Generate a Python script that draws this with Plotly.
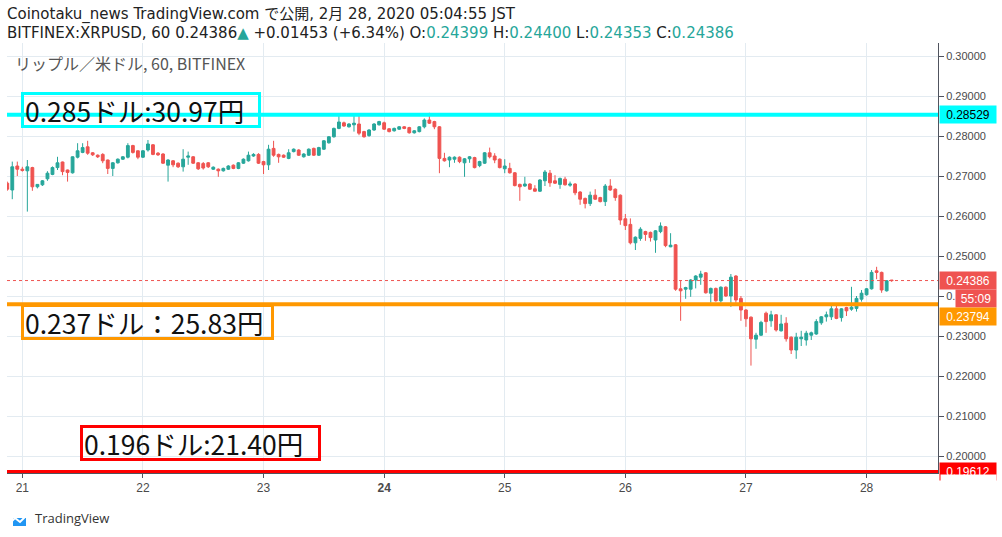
import pandas as pd
import plotly.graph_objects as go

# hourly XRPUSD candles (BITFINEX, 60)
opens = [
    0.2682, 0.2665, 0.2725, 0.2717, 0.2713, 0.2721, 0.2673, 0.2678, 0.2693, 0.2704,
    0.2721, 0.2735, 0.2715, 0.2708, 0.2747, 0.2759, 0.2773, 0.2758, 0.2752, 0.2754,
    0.2740, 0.2719, 0.2733, 0.2742, 0.2747, 0.2776, 0.2763, 0.2747, 0.2765, 0.2778,
    0.2757, 0.2755, 0.2727, 0.2738, 0.2732, 0.2723, 0.2747, 0.2748, 0.2733, 0.2731,
    0.2733, 0.2717, 0.2717, 0.2713, 0.2717, 0.2727, 0.2719, 0.2732, 0.2738, 0.2750,
    0.2754, 0.2736, 0.2728, 0.2769, 0.2754, 0.2752, 0.2744, 0.2761, 0.2765, 0.2748,
    0.2752, 0.2769, 0.2752, 0.2767, 0.2783, 0.2798, 0.2819, 0.2833, 0.2823, 0.2828,
    0.2830, 0.2811, 0.2801, 0.2815, 0.2828, 0.2833, 0.2818, 0.2813, 0.2817, 0.2823,
    0.2821, 0.2808, 0.2811, 0.2823, 0.2840, 0.2836, 0.2823, 0.2744, 0.2740, 0.2742,
    0.2747, 0.2733, 0.2743, 0.2746, 0.2726, 0.2732, 0.2758, 0.2750, 0.2742, 0.2718,
    0.2719, 0.2708, 0.2679, 0.2675, 0.2680, 0.2668, 0.2662, 0.2688, 0.2707, 0.2688,
    0.2679, 0.2692, 0.2677, 0.2680, 0.2660, 0.2644, 0.2631, 0.2652, 0.2646, 0.2636,
    0.2675, 0.2667, 0.2652, 0.2593, 0.2579, 0.2533, 0.2544, 0.2561, 0.2559, 0.2540,
    0.2561, 0.2573, 0.2523, 0.2528, 0.2418, 0.2417, 0.2417, 0.2440, 0.2447, 0.2458,
    0.2407, 0.2419, 0.2388, 0.2422, 0.2400, 0.2450, 0.2394, 0.2365, 0.2347, 0.2292,
    0.2302, 0.2357, 0.2338, 0.2353, 0.2313, 0.2332, 0.2297, 0.2265, 0.2293, 0.2290,
    0.2302, 0.2305, 0.2333, 0.2348, 0.2348, 0.2368, 0.2346, 0.2371, 0.2367, 0.2369,
    0.2392, 0.2403, 0.2418, 0.2463, 0.2459, 0.2413, 0.24399,
]
highs = [
    0.2686, 0.2736, 0.2736, 0.2723, 0.2740, 0.2723, 0.2680, 0.2690, 0.2712, 0.2724,
    0.2748, 0.2736, 0.2716, 0.2749, 0.2782, 0.2782, 0.2788, 0.2760, 0.2754, 0.2757,
    0.2741, 0.2735, 0.2744, 0.2750, 0.2782, 0.2778, 0.2764, 0.2765, 0.2790, 0.2780,
    0.2760, 0.2757, 0.2742, 0.2740, 0.2734, 0.2767, 0.2761, 0.2750, 0.2735, 0.2735,
    0.2735, 0.2724, 0.2719, 0.2721, 0.2727, 0.2729, 0.2735, 0.2744, 0.2761, 0.2757,
    0.2757, 0.2738, 0.2778, 0.2788, 0.2756, 0.2754, 0.2767, 0.2769, 0.2767, 0.2757,
    0.2769, 0.2771, 0.2773, 0.2790, 0.2800, 0.2821, 0.2853, 0.2836, 0.2832, 0.2853,
    0.2853, 0.2813, 0.2817, 0.2832, 0.2838, 0.2836, 0.2820, 0.2821, 0.2825, 0.2825,
    0.2823, 0.2815, 0.2825, 0.2844, 0.2858, 0.2838, 0.2825, 0.2758, 0.2749, 0.2749,
    0.2749, 0.2745, 0.2750, 0.2748, 0.2738, 0.2760, 0.2771, 0.2757, 0.2744, 0.2742,
    0.2733, 0.2710, 0.2681, 0.2698, 0.2682, 0.2677, 0.2692, 0.2715, 0.2715, 0.2702,
    0.2696, 0.2698, 0.2686, 0.2682, 0.2662, 0.2646, 0.2661, 0.2667, 0.2648, 0.2680,
    0.2692, 0.2669, 0.2654, 0.2605, 0.2594, 0.2549, 0.2572, 0.2563, 0.2561, 0.2565,
    0.2584, 0.2575, 0.2557, 0.2530, 0.2440, 0.2423, 0.2442, 0.2452, 0.2463, 0.2460,
    0.2421, 0.2421, 0.2424, 0.2424, 0.2455, 0.2452, 0.2400, 0.2367, 0.2349, 0.2308,
    0.2338, 0.2361, 0.2363, 0.2355, 0.2353, 0.2347, 0.2299, 0.2308, 0.2313, 0.2313,
    0.2311, 0.2342, 0.2350, 0.2361, 0.2375, 0.2375, 0.2370, 0.2373, 0.2423, 0.2400,
    0.2415, 0.2420, 0.2465, 0.2473, 0.2461, 0.2440, 0.24400,
]
lows = [
    0.2663, 0.2642, 0.2700, 0.2711, 0.2611, 0.2663, 0.2669, 0.2675, 0.2688, 0.2702,
    0.2715, 0.2702, 0.2686, 0.2706, 0.2744, 0.2757, 0.2753, 0.2750, 0.2745, 0.2732,
    0.2705, 0.2700, 0.2731, 0.2740, 0.2744, 0.2756, 0.2742, 0.2745, 0.2761, 0.2752,
    0.2750, 0.2730, 0.2686, 0.2722, 0.2720, 0.2711, 0.2728, 0.2730, 0.2715, 0.2716,
    0.2720, 0.2715, 0.2698, 0.2711, 0.2715, 0.2717, 0.2717, 0.2730, 0.2736, 0.2748,
    0.2730, 0.2705, 0.2715, 0.2748, 0.2733, 0.2745, 0.2742, 0.2759, 0.2750, 0.2746,
    0.2750, 0.2750, 0.2750, 0.2765, 0.2781, 0.2796, 0.2817, 0.2823, 0.2821, 0.2811,
    0.2802, 0.2796, 0.2798, 0.2813, 0.2826, 0.2815, 0.2809, 0.2811, 0.2815, 0.2817,
    0.2806, 0.2806, 0.2809, 0.2819, 0.2830, 0.2817, 0.2707, 0.2736, 0.2722, 0.2733,
    0.2732, 0.2698, 0.2733, 0.2719, 0.2722, 0.2730, 0.2744, 0.2732, 0.2719, 0.2707,
    0.2706, 0.2674, 0.2638, 0.2673, 0.2665, 0.2661, 0.2660, 0.2675, 0.2673, 0.2680,
    0.2668, 0.2676, 0.2673, 0.2652, 0.2628, 0.2619, 0.2625, 0.2640, 0.2634, 0.2625,
    0.2663, 0.2638, 0.2578, 0.2565, 0.2529, 0.2515, 0.2538, 0.2538, 0.2536, 0.2508,
    0.2557, 0.2522, 0.2522, 0.2413, 0.2338, 0.2393, 0.2398, 0.2419, 0.2428, 0.2406,
    0.2383, 0.2386, 0.2383, 0.2398, 0.2373, 0.2383, 0.2338, 0.2323, 0.2226, 0.2268,
    0.2300, 0.2308, 0.2323, 0.2311, 0.2311, 0.2286, 0.2255, 0.2243, 0.2275, 0.2276,
    0.2290, 0.2303, 0.2328, 0.2336, 0.2340, 0.2342, 0.2336, 0.2350, 0.2363, 0.2361,
    0.2386, 0.2401, 0.2416, 0.2442, 0.2408, 0.2411, 0.24353,
]
closes = [
    0.2667, 0.2723, 0.2717, 0.2714, 0.2723, 0.2673, 0.2679, 0.2688, 0.2707, 0.2721,
    0.2733, 0.2711, 0.2709, 0.2748, 0.2763, 0.2771, 0.2757, 0.2753, 0.2748, 0.2738,
    0.2719, 0.2733, 0.2742, 0.2748, 0.2776, 0.2759, 0.2747, 0.2763, 0.2780, 0.2754,
    0.2753, 0.2732, 0.2740, 0.2728, 0.2723, 0.2742, 0.2750, 0.2732, 0.2718, 0.2720,
    0.2723, 0.2722, 0.2713, 0.2719, 0.2725, 0.2719, 0.2733, 0.2742, 0.2752, 0.2754,
    0.2732, 0.2728, 0.2767, 0.2752, 0.2748, 0.2747, 0.2758, 0.2767, 0.2752, 0.2755,
    0.2767, 0.2752, 0.2771, 0.2788, 0.2798, 0.2819, 0.2835, 0.2825, 0.2830, 0.2832,
    0.2807, 0.2798, 0.2815, 0.2830, 0.2836, 0.2817, 0.2811, 0.2819, 0.2823, 0.2819,
    0.2808, 0.2813, 0.2823, 0.2840, 0.2832, 0.2823, 0.2744, 0.2738, 0.2747, 0.2747,
    0.2736, 0.2743, 0.2748, 0.2721, 0.2736, 0.2758, 0.2748, 0.2740, 0.2721, 0.2725,
    0.2708, 0.2676, 0.2673, 0.2680, 0.2667, 0.2662, 0.2690, 0.2710, 0.2683, 0.2682,
    0.2694, 0.2678, 0.2680, 0.2658, 0.2642, 0.2631, 0.2652, 0.2642, 0.2636, 0.2675,
    0.2665, 0.2646, 0.2590, 0.2576, 0.2533, 0.2547, 0.2567, 0.2554, 0.2546, 0.2563,
    0.2575, 0.2526, 0.2527, 0.2417, 0.2413, 0.2421, 0.2440, 0.2450, 0.2455, 0.2408,
    0.2419, 0.2388, 0.2422, 0.2400, 0.2447, 0.2390, 0.2365, 0.2343, 0.2293, 0.2302,
    0.2334, 0.2336, 0.2353, 0.2315, 0.2330, 0.2293, 0.2265, 0.2297, 0.2297, 0.2307,
    0.2308, 0.2336, 0.2348, 0.2353, 0.2368, 0.2344, 0.2368, 0.2363, 0.2372, 0.2394,
    0.2407, 0.2418, 0.2459, 0.2459, 0.2415, 0.2438, 0.24386,
]
times = pd.date_range("2020-02-20 21:00", periods=len(closes), freq="h")

day_ticks = pd.date_range("2020-02-21", "2020-02-28", freq="D")
day_labels = ["21", "22", "23", "<b>24</b>", "25", "26", "27", "28"]
price_ticks = [0.20, 0.21, 0.22, 0.23, 0.24, 0.25, 0.26, 0.27, 0.28, 0.29, 0.30]
# 0.24000 is mostly hidden behind the countdown tag in the original
price_labels = ["0.20000", "0.21000", "0.22000", "0.23000", "0.", "0.25000",
                "0.26000", "0.27000", "0.28000", "0.29000", "0.30000"]

# support / resistance lines drawn by the author
level_high = 0.28529
level_mid = 0.23794
level_low = 0.19612
last_price = 0.24386

UP = "#26a69a"
DOWN = "#ef5350"
FRAME = "#50535e"
GRID = "#e3ebf1"
TXT = "#4a4a4a"
TV_BLUE = "#2196f3"


# pixel -> paper helpers (plot area is x 7..938, y 43..473)
def px(x):
    return (x - 7) / 931


def py(y):
    return (473 - y) / 430


fig = go.Figure(go.Candlestick(
    x=times, open=opens, high=highs, low=lows, close=closes,
    increasing=dict(line=dict(color=UP, width=1), fillcolor=UP),
    decreasing=dict(line=dict(color=DOWN, width=1), fillcolor=DOWN),
    whiskerwidth=0, hoverinfo="skip", showlegend=False,
))

# horizontal levels
fig.add_hline(y=last_price, line=dict(color=DOWN, width=1, dash="dot"))
fig.add_hline(y=level_high, line=dict(color="#00ffff", width=4))
fig.add_hline(y=level_mid, line=dict(color="#ff9800", width=4))
fig.add_hline(y=level_low, line=dict(color="#ff0000", width=3))

shapes = [
    # outer frame
    dict(type="rect", xref="paper", yref="paper", x0=px(7), x1=px(995), y0=py(500), y1=py(43),
         line=dict(color=FRAME, width=1)),
    dict(type="line", xref="paper", yref="paper", x0=px(938), x1=px(938), y0=py(473), y1=py(500),
         line=dict(color=FRAME, width=1)),
    # TradingView logo (cloud)
    dict(type="circle", xref="paper", yref="paper", x0=px(16), x1=px(32), y0=py(525), y1=py(509),
         fillcolor=TV_BLUE, line_width=0),
    dict(type="circle", xref="paper", yref="paper", x0=px(7), x1=px(19), y0=py(526), y1=py(514),
         fillcolor=TV_BLUE, line_width=0),
    dict(type="rect", xref="paper", yref="paper", x0=px(13), x1=px(26), y0=py(526), y1=py(518),
         fillcolor=TV_BLUE, line_width=0),
    dict(type="path", xref="paper", yref="paper",
         path=f"M {px(9)},{py(524)} L {px(15)},{py(518)} L {px(20)},{py(522)} L {px(28)},{py(514)}",
         line=dict(color="white", width=2)),
]

CJK = "Noto Sans CJK JP"
annotations = []


def note(text, x, y, **kw):
    d = dict(text=text, x=px(x), y=py(y), xref="paper", yref="paper",
             showarrow=False, xanchor="left", yanchor="middle")
    d.update(kw)
    annotations.append(d)


def price_tag(text, y, bg, fg, x=939, w=56, yref_price=True):
    d = dict(text=text, x=px(x), xref="paper", xanchor="left", yanchor="middle",
             showarrow=False, bgcolor=bg, width=w, height=17, borderpad=0, align="center",
             font=dict(family="Liberation Sans", size=12, color=fg))
    if yref_price:
        d.update(y=y, yref="y")
    else:
        d.update(y=py(y), yref="paper")
    annotations.append(d)


# header
head_font = dict(family="DejaVu Sans, " + CJK, size=15, color="#222222")
g = f"<span style='color:{UP}'>"
note("Coinotaku_news TradingView.com で公開, 2月 28, 2020 05:04:55 JST", 6, 14.7,
     font=head_font, borderpad=0)
note("BITFINEX:XRPUSD, 60 0.24386" + g + "▲</span> +0.01453 (+6.34%) O:" + g + "0.24399</span> H:"
     + g + "0.24400</span> L:" + g + "0.24353</span> C:" + g + "0.24386</span>", 6, 32.6,
     font=head_font, borderpad=0)
note("リップル／米ドル, 60, BITFINEX", 13, 63, font=dict(family=CJK, size=16, color="#555555"))

# level boxes
box_font = dict(family=CJK, size=26.5, color="#111111")
note("0.285ドル:30.97円", 21, 110.5, width=232, height=28, bordercolor="#00ffff", borderwidth=3,
     align="left", font=box_font)
note("0.237ドル：25.83円", 21, 322, width=245, height=28, bordercolor="#ff9800", borderwidth=3,
     align="left", font=box_font)
note("0.196ドル:21.40円", 80, 442.5, width=233, height=28, bordercolor="#ff0000", borderwidth=3,
     align="left", font=box_font)

# price tags on the right scale
price_tag(f"{level_high:.5f}", level_high, "#00ffff", "#000000")
price_tag(f"{last_price:.5f}", last_price, DOWN, "#ffffff")
price_tag("55:09", 298.5, DOWN, "#ffffff", x=955, w=40, yref_price=False)
price_tag(f"{level_mid:.5f}", 316.7, "#ff9800", "#ffffff", yref_price=False)
price_tag(f"{level_low:.5f}", 471.5, "#ff0000", "#ffffff", yref_price=False)
# mask the part of the bottom tag that falls below the price scale
annotations.append(dict(text=" ", x=px(939.5), y=py(474), xref="paper", yref="paper",
                        xanchor="left", yanchor="top", showarrow=False, bgcolor="white",
                        width=55, height=24, borderpad=0))

# logo text
note("TradingView", 33, 518, font=dict(family="Open Sans", size=13, color="#333333"))

fig.update_layout(
    width=1002, height=537,
    margin=dict(l=7, r=64, t=43, b=64),
    paper_bgcolor="white", plot_bgcolor="white",
    boxgap=0.2,
    shapes=shapes, annotations=annotations,
    xaxis=dict(
        range=["2020-02-20 20:57", "2020-02-28 14:13"],
        rangeslider=dict(visible=False),
        tickvals=day_ticks, ticktext=day_labels,
        ticks="outside", ticklen=4, tickcolor=FRAME,
        showline=True, linecolor=FRAME, linewidth=1,
        showgrid=True, gridcolor=GRID, gridwidth=1, zeroline=False,
        tickfont=dict(family="Liberation Sans", size=12, color=TXT),
    ),
    yaxis=dict(
        side="right", range=[0.19575, 0.30325],
        tickvals=price_ticks, ticktext=price_labels,
        ticks="outside", ticklen=5, tickcolor=FRAME,
        showline=True, linecolor=FRAME, linewidth=1,
        showgrid=True, gridcolor=GRID, gridwidth=1, zeroline=False,
        tickfont=dict(family="Liberation Sans", size=11, color=TXT),
    ),
)

fig.write_html("out.html", config={"displayModeBar": False},
               post_script="document.body.style.margin = '0';")
